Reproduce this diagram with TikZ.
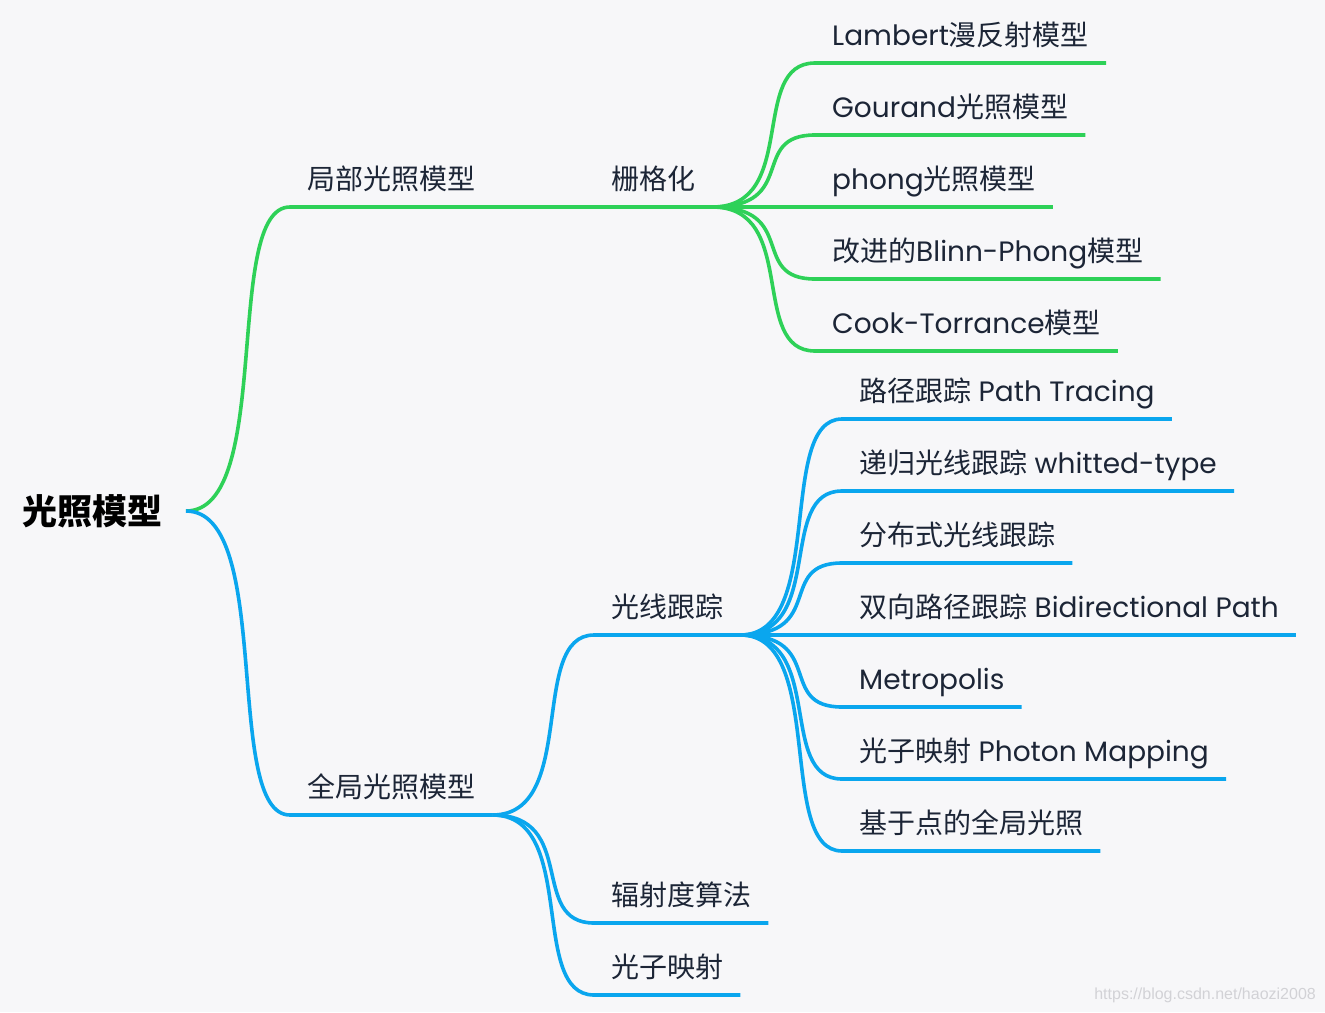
\documentclass[tikz,border=0pt]{standalone}
\usepackage{fontspec}
\setmainfont{Poppins}
\newfontfamily\cjk{Noto Sans CJK SC}
\newfontfamily\wmfont{Liberation Sans}
\usetikzlibrary{calc}
\definecolor{bg}{HTML}{F7F7F9}
\definecolor{txt}{HTML}{1C2536}
\definecolor{gr}{HTML}{2ED158}
\definecolor{bl}{HTML}{0AA6EE}
\definecolor{wm}{HTML}{D2D2D6}
\newcommand\zh[1]{{\cjk #1}}
\newcommand\mmlink[3]{\draw[#1] let \p1=(#2), \p2=(#3.south west) in
  (\p1) .. controls ({\x1+0.85*(\x2-\x1)},\y1) and ({\x1+0.35*(\x2-\x1)},\y2) .. (\p2) -- (#3.south east);}
\begin{document}
\begin{tikzpicture}[x=1pt,y=-1pt,
  topic/.style={anchor=south west, inner xsep=17pt, inner ysep=0pt,
    text height=22pt, text depth=17pt, text=txt,
    font=\fontsize{28}{28}\selectfont},
  gline/.style={draw=gr, line width=3.6pt, line cap=butt},
  bline/.style={draw=bl, line width=3.6pt, line cap=butt}]
\fill[bg] (0,0) rectangle (1325,1012);
\useasboundingbox (0,0) rectangle (1325,1012);

% root
\node (root) [anchor=east, inner xsep=23pt, inner ysep=0pt, text height=30pt, text depth=3.4pt,
  font=\cjk\bfseries\fontsize{35}{35}\selectfont, text=black] at (186,511) {光照模型};

% level 1
\node (lp) [topic] at (290,207) {\zh{局部光照模型}};
\node (gl) [topic] at (290,815) {\zh{全局光照模型}};

% level 2
\node (sg) [topic] at (594,207) {\zh{栅格化}};
\node (gx) [topic] at (594,635) {\zh{光线跟踪}};
\node (fs) [topic] at (594,923) {\zh{辐射度算法}};
\node (gz) [topic] at (594,995) {\zh{光子映射}};

% level 3 green
\node (lam) [topic] at (815,63)  {Lambert\zh{漫反射模型}};
\node (gou) [topic] at (815,135) {Gourand\zh{光照模型}};
\node (pho) [topic] at (815,207) {phong\zh{光照模型}};
\node (bli) [topic] at (815,279) {\zh{改进的}Blinn-Phong\zh{模型}};
\node (coo) [topic] at (815,351) {Cook-Torrance\zh{模型}};

% level 3 blue
\node (pt)  [topic] at (842,419) {\zh{路径跟踪} Path Tracing};
\node (dg)  [topic] at (842,491) {\zh{递归光线跟踪} whitted-type};
\node (fb)  [topic] at (842,563) {\zh{分布式光线跟踪}};
\node (sx)  [topic] at (842,635) {\zh{双向路径跟踪} Bidirectional Path};
\node (met) [topic] at (842,707) {Metropolis};
\node (pm)  [topic] at (842,779) {\zh{光子映射} Photon Mapping};
\node (jy)  [topic] at (842,851) {\zh{基于点的全局光照}};

% connectors green
\mmlink{gline}{root.east}{lp}
\mmlink{gline}{lp.south east}{sg}
\mmlink{gline}{sg.south east}{lam}
\mmlink{gline}{sg.south east}{gou}
\mmlink{gline}{sg.south east}{pho}
\mmlink{gline}{sg.south east}{bli}
\mmlink{gline}{sg.south east}{coo}

% connectors blue
\mmlink{bline}{root.east}{gl}
\mmlink{bline}{gl.south east}{gx}
\mmlink{bline}{gl.south east}{fs}
\mmlink{bline}{gl.south east}{gz}
\mmlink{bline}{gx.south east}{pt}
\mmlink{bline}{gx.south east}{dg}
\mmlink{bline}{gx.south east}{fb}
\mmlink{bline}{gx.south east}{sx}
\mmlink{bline}{gx.south east}{met}
\mmlink{bline}{gx.south east}{pm}
\mmlink{bline}{gx.south east}{jy}

% watermark
\node (wmk) [anchor=base east, inner sep=0pt, text=wm,
  font=\wmfont\fontsize{16}{16}\selectfont] at (1316,999) {https://blog.csdn.net/haozi2008};
\end{tikzpicture}
\end{document}
